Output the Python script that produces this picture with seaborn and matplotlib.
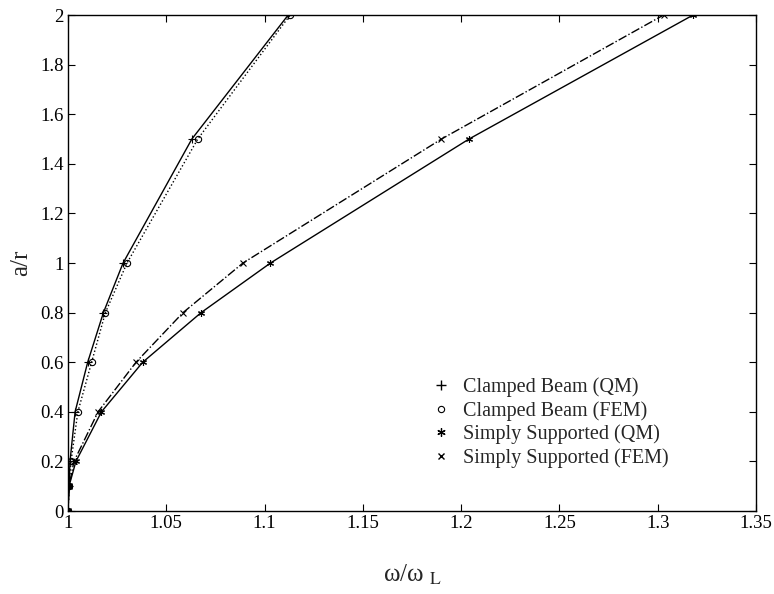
import matplotlib
matplotlib.use("Agg")
import matplotlib.pyplot as plt
import seaborn as sns
from matplotlib.lines import Line2D

# ---- data ----
ar = [0.0, 0.1, 0.2, 0.4, 0.6, 0.8, 1.0, 1.5, 2.0]
cb_qm = [1.0, 1.0005, 1.001, 1.0036, 1.010, 1.018, 1.028, 1.063, 1.112]
cb_fem = [1.0, 1.0005, 1.0015, 1.005, 1.012, 1.019, 1.030, 1.066, 1.113]
ss_qm = [1.0, 1.0005, 1.004, 1.017, 1.038, 1.0677, 1.103, 1.204, 1.318]
ss_fem = [1.0, 1.0005, 1.003, 1.0153, 1.0346, 1.0585, 1.089, 1.190, 1.303]
labels = ["Clamped Beam (QM)", "Clamped Beam (FEM)",
          "Simply Supported (QM)", "Simply Supported (FEM)"]
xticks = [1, 1.05, 1.1, 1.15, 1.2, 1.25, 1.3, 1.35]
xticklabels = ["1", "1.05", "1.1", "1.15", "1.2", "1.25", "1.3", "1.35"]
yticks = [0, 0.2, 0.4, 0.6, 0.8, 1.0, 1.2, 1.4, 1.6, 1.8, 2.0]
yticklabels = ["0", "0.2", "0.4", "0.6", "0.8", "1", "1.2", "1.4", "1.6", "1.8", "2"]

sns.set_style("ticks")
plt.rcParams["font.family"] = ["Liberation Serif", "DejaVu Serif"]
plt.rcParams["mathtext.fontset"] = "stix"

fig = plt.figure(figsize=(7.74, 5.94), dpi=100)
ax = fig.add_axes([0.0879, 0.1397, 0.8888, 0.835])

ASTER = (6, 2, 0)
series = [
    (cb_qm, "+", "-", 5.5),
    (cb_fem, "o", ":", 4.5),
    (ss_qm, ASTER, "-", 5),
    (ss_fem, "x", "-.", 5),
]
for (xs, mk, ls, ms), lab in zip(series, labels):
    sns.lineplot(x=xs, y=ar, sort=False, estimator=None, ax=ax,
                 color="k", linestyle=ls, linewidth=1.0, marker=mk,
                 markersize=ms, markerfacecolor="none",
                 markeredgecolor="k", markeredgewidth=0.8)
# filled origin dots
ax.plot([1.0, 1.0005], [0.0, 0.1], linestyle="none", marker="o",
        markersize=4, color="k")

ax.set_xlim(1, 1.35)
ax.set_ylim(0, 2)
ax.set_xticks(xticks)
ax.set_xticklabels(xticklabels)
ax.set_yticks(yticks)
ax.set_yticklabels(yticklabels)
ax.tick_params(direction="in", top=True, right=True, length=5, width=0.8,
               labelsize=13.5, pad=3, colors="k")
for s in ax.spines.values():
    s.set_visible(True)
    s.set_linewidth(1.0)
    s.set_color("k")

ax.set_xlabel("ω/ω $_{\\mathrm{L}}$", fontsize=18, labelpad=22)
ax.set_ylabel("a/r", fontsize=18, labelpad=6)

handles = [
    Line2D([], [], marker="+", linestyle="none", color="k", markersize=7, markeredgewidth=1.0),
    Line2D([], [], marker="o", linestyle="none", color="k", markersize=4.5,
           markerfacecolor="none", markeredgewidth=0.8),
    Line2D([], [], marker=ASTER, linestyle="none", color="k", markersize=6, markeredgewidth=0.9),
    Line2D([], [], marker="x", linestyle="none", color="k", markersize=5, markeredgewidth=1.0),
]
ax.legend(handles, labels, loc="upper left", bbox_to_anchor=(0.527, 0.27),
          frameon=False, fontsize=14.5, handlelength=1.0, handletextpad=0.6,
          labelspacing=0.2, borderpad=0, borderaxespad=0)

fig.savefig("out.png", dpi=100, facecolor="white")
